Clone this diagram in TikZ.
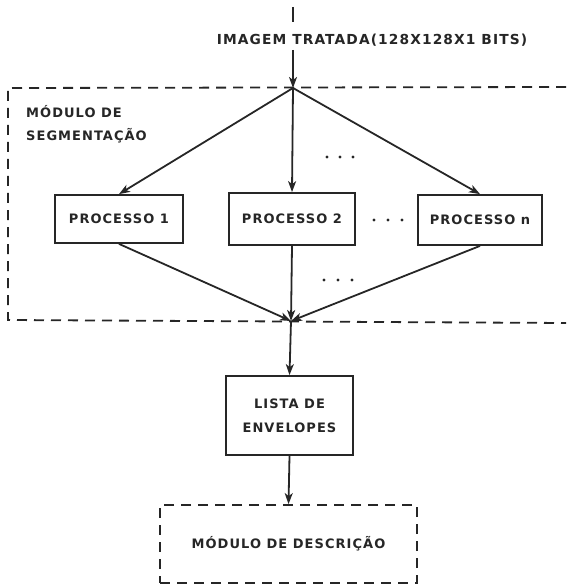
\documentclass[tikz,border=0pt]{standalone}
\usepackage{fontspec}
\setmainfont{DejaVu Sans}[BoldFont={DejaVu Sans Bold}]
\newfontfamily\lettering{DejaVu Sans Bold}[LetterSpace=8]
\usetikzlibrary{arrows.meta,calc}
\begin{document}
\begin{tikzpicture}[x=1pt,y=-1pt,
  every node/.style={font=\lettering\fontsize{13}{16}\selectfont, inner sep=0pt, text=black!85},
  line/.style={line width=1.8pt, draw=black!85},
  arr/.style={line, -{Stealth[length=11pt,width=8pt,inset=3pt]}},
  proc/.style={line, rectangle, align=center},
  dashbox/.style={line width=1.8pt, draw=black!85, dash pattern=on 10pt off 7pt},
  dotc/.style={fill=black!85}]
\useasboundingbox (0,0) rectangle (566,588);
% top stub and label
\coordinate (stubA) at (293,7);
\coordinate (stubB) at (293,22);
\draw[line] (stubA) -- (stubB);
\node[font=\lettering\fontsize{13.8}{16}\selectfont] (img) at (372,40) {IMAGEM TRATADA(128X128X1 BITS)};
\coordinate (jt) at (293,88);
\coordinate (jb) at (291,321);
\coordinate (imgb) at (293,50);
\draw[arr] (imgb) -- (jt);
% segmentation dashed box (open on the right)
\coordinate (segTR) at (566,87);
\coordinate (segTL) at (8,88);
\coordinate (segBL) at (8,320);
\coordinate (segBR) at (566,323);
\draw[dashbox] (segTR) -- (segTL) -- (segBL) -- (segBR);
\node[anchor=west] (mod1) at (26,112) {MÓDULO DE};
\node[anchor=west] (mod2) at (26,136) {SEGMENTAÇÃO};
% process boxes
\node[proc, minimum width=128pt, minimum height=48pt] (p1) at (119,219) {PROCESSO 1};
\node[proc, minimum width=126pt, minimum height=52pt] (p2) at (292,219) {PROCESSO 2};
\node[proc, minimum width=124pt, minimum height=50pt] (pn) at (480,220) {PROCESSO n};
\draw[arr] (jt) -- (p1.north);
\draw[arr] (jt) -- (p2.north);
\draw[arr] (jt) -- (pn.north);
\draw[arr] (p1.south) -- (jb);
\draw[arr] (p2.south) -- (jb);
\draw[arr] (pn.south) -- (jb);
% dots
\foreach \x in {327,340,353} \fill[dotc] (\x,157) circle (1.6pt);
\foreach \x in {374,388,402} \fill[dotc] (\x,220) circle (1.6pt);
\foreach \x in {324,338,352} \fill[dotc] (\x,280) circle (1.6pt);
% lista
\node[proc, minimum width=127pt, minimum height=79pt] (lista) at (289.5,415.5) {LISTA DE\\[8pt]ENVELOPES};
\draw[arr] (jb) -- (lista.north);
% descricao
\node[dashbox, rectangle, minimum width=257pt, minimum height=78pt] (desc) at (288.5,544) {MÓDULO DE DESCRIÇÃO};
\draw[arr] (lista.south) -- (desc.north);
\end{tikzpicture}
\end{document}
